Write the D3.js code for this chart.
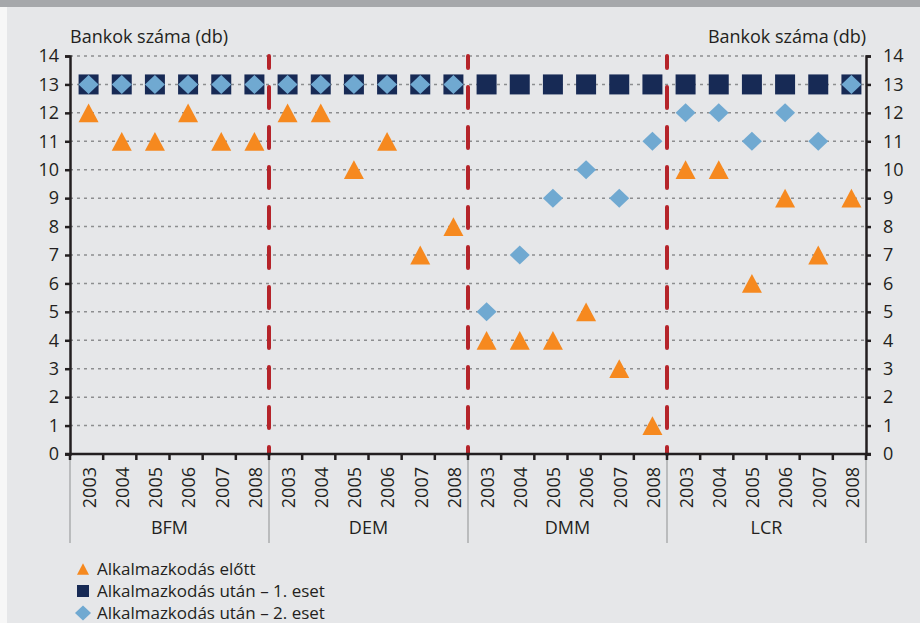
<!DOCTYPE html>
<html>
<head>
<meta charset="utf-8">
<script src="https://cdn.jsdelivr.net/npm/d3@7"></script>
<style>
  body { margin: 0; background: #e6e7e9; }
  svg { display: block; font-family: "Open Sans", sans-serif; }
</style>
</head>
<body>
<svg id="chart"></svg>
<script>
var groups = ["BFM", "DEM", "DMM", "LCR"];
var years = ["2003", "2004", "2005", "2006", "2007", "2008"];

// Alkalmazkodás előtt
var elott = [12, 11, 11, 12, 11, 11,
             12, 12, 10, 11, 7, 8,
             4, 4, 4, 5, 3, 1,
             10, 10, 6, 9, 7, 9];
// Alkalmazkodás után – 1. eset
var utan1 = [13, 13, 13, 13, 13, 13,
             13, 13, 13, 13, 13, 13,
             13, 13, 13, 13, 13, 13,
             13, 13, 13, 13, 13, 13];
// Alkalmazkodás után – 2. eset
var utan2 = [13, 13, 13, 13, 13, 13,
             13, 13, 13, 13, 13, 13,
             5, 7, 9, 10, 9, 11,
             12, 12, 11, 12, 11, 13];

var yTicks = [0, 1, 2, 3, 4, 5, 6, 7, 8, 9, 10, 11, 12, 13, 14];
var axisTitle = "Bankok száma (db)";
var legendLabels = ["Alkalmazkodás előtt", "Alkalmazkodás után – 1. eset", "Alkalmazkodás után – 2. eset"];

var width = 920;
var height = 623;
// plot box (note: "top" is taken by window.top)
var plotL = 70, plotR = 866, plotT = 56, plotB = 454;

var TEXT = "#231f20";
var ORANGE = "#f6891f";
var NAVY = "#172a55";
var LIGHTBLUE = "#70a9d1";
var RED = "#b5242a";

var svg = d3.select("svg#chart")
    .attr("width", width)
    .attr("height", height);

// frame
svg.append("rect").attr("width", width).attr("height", height).attr("fill", "#e6e7e9");
svg.append("rect").attr("x", 0).attr("y", 7).attr("width", 7).attr("height", height).attr("fill", "#f7f7f7");
svg.append("rect").attr("width", width).attr("height", 7).attr("fill", "#a6a8ab");

// categories = group + year
var cats = [];
groups.forEach(function(g) {
    years.forEach(function(yr) { cats.push(g + "|" + yr); });
});

var x = d3.scaleBand().domain(cats).range([plotL, plotR]);
var xg = d3.scaleBand().domain(groups).range([plotL, plotR]);
var y = d3.scaleLinear().domain([0, 14]).range([plotB, plotT]);

var makeRows = function(vals) {
    return vals.map(function(v, i) { return { cat: cats[i], value: v }; });
};

// gridlines
svg.append("g").selectAll("line")
    .data(yTicks.filter(function(t) { return t > 0; }))
    .enter().append("line")
    .attr("x1", plotL).attr("x2", plotR)
    .attr("y1", function(d) { return y(d); })
    .attr("y2", function(d) { return y(d); })
    .attr("stroke", "#8d8e90")
    .attr("stroke-width", 1.5)
    .attr("stroke-dasharray", "3,4");

// group separators below the axis
svg.append("g").selectAll("line")
    .data(groups.concat(["end"]))
    .enter().append("line")
    .attr("x1", function(d) { return d == "end" ? plotR : xg(d); })
    .attr("x2", function(d) { return d == "end" ? plotR : xg(d); })
    .attr("y1", plotB).attr("y2", 543)
    .attr("stroke", "#a3a4a6")
    .attr("stroke-width", 1.3);

// red dashed dividers
svg.append("g").selectAll("line")
    .data(groups.slice(1))
    .enter().append("line")
    .attr("x1", function(d) { return xg(d); })
    .attr("x2", function(d) { return xg(d); })
    .attr("y1", y(14)).attr("y2", y(0))
    .attr("stroke", RED)
    .attr("stroke-width", 4)
    .attr("stroke-linecap", "round")
    .attr("stroke-dasharray", "21,19")
    .attr("stroke-dashoffset", 9);

// axes
var yLeft = d3.axisLeft(y).tickValues(yTicks).tickSize(5).tickPadding(6).tickFormat(d3.format("d"));
var yRight = d3.axisRight(y).tickValues(yTicks).tickSize(5).tickPadding(12).tickFormat(d3.format("d"));

var styleAxis = function(g) {
    g.select(".domain").attr("stroke", TEXT).attr("stroke-width", 2.5);
    g.selectAll(".tick line").attr("stroke", TEXT).attr("stroke-width", 2.5);
    g.selectAll("text").attr("fill", TEXT).attr("font-size", 18)
        .attr("font-family", "'Open Sans', sans-serif");
};

svg.append("g").attr("transform", "translate(" + plotL + ",0)").call(yLeft).call(styleAxis);
svg.append("g").attr("transform", "translate(" + plotR + ",0)").call(yRight).call(styleAxis);

// x axis line + ticks at category boundaries
var xAxis = svg.append("g");
xAxis.append("line")
    .attr("x1", plotL - 5).attr("x2", plotR + 5)
    .attr("y1", plotB).attr("y2", plotB)
    .attr("stroke", TEXT).attr("stroke-width", 2.5);
xAxis.selectAll("line.tk")
    .data(cats.concat(["end"]))
    .enter().append("line").attr("class", "tk")
    .attr("x1", function(d) { return d == "end" ? plotR : x(d); })
    .attr("x2", function(d) { return d == "end" ? plotR : x(d); })
    .attr("y1", plotB).attr("y2", plotB + 6)
    .attr("stroke", TEXT).attr("stroke-width", 2.5);

xAxis.selectAll("text.yr")
    .data(cats)
    .enter().append("text").attr("class", "yr")
    .attr("transform", function(d) {
        return "translate(" + (x(d) + x.bandwidth() / 2 + 3) + "," + (plotB + 13) + ") rotate(-90)";
    })
    .attr("text-anchor", "end")
    .attr("dy", "0.35em")
    .attr("font-size", 18)
    .attr("fill", TEXT)
    .text(function(d) { return d.split("|")[1]; });

xAxis.selectAll("text.grp")
    .data(groups)
    .enter().append("text").attr("class", "grp")
    .attr("x", function(d) { return xg(d) + xg.bandwidth() / 2; })
    .attr("y", 534)
    .attr("text-anchor", "middle")
    .attr("font-size", 18)
    .attr("fill", TEXT)
    .text(function(d) { return d; });

// axis titles
svg.append("text").attr("x", plotL).attr("y", 43)
    .attr("font-size", 18).attr("fill", TEXT).text(axisTitle);
svg.append("text").attr("x", plotR).attr("y", 43).attr("text-anchor", "end")
    .attr("font-size", 18).attr("fill", TEXT).text(axisTitle);

// marker shapes
var triangle = {
    draw: function(ctx, size) {
        var w = Math.sqrt(size);
        ctx.moveTo(0, -w * 0.47);
        ctx.lineTo(w / 2, w * 0.47);
        ctx.lineTo(-w / 2, w * 0.47);
        ctx.closePath();
    }
};
var diamond = {
    draw: function(ctx, size) {
        var r = Math.sqrt(size) / 2;
        ctx.moveTo(0, -r * 0.95);
        ctx.lineTo(r, 0);
        ctx.lineTo(0, r * 0.95);
        ctx.lineTo(-r, 0);
        ctx.closePath();
    }
};

var drawSeries = function(vals, type, size, color) {
    svg.append("g").selectAll("path")
        .data(makeRows(vals))
        .enter().append("path")
        .attr("transform", function(d) {
            return "translate(" + (x(d.cat) + x.bandwidth() / 2 + 2) + "," + y(d.value) + ")";
        })
        .attr("d", d3.symbol().type(type).size(size))
        .attr("fill", color);
};

drawSeries(utan1, d3.symbolSquare, 400, NAVY);
drawSeries(utan2, diamond, 400, LIGHTBLUE);
drawSeries(elott, triangle, 400, ORANGE);

// legend
var legend = svg.append("g").attr("transform", "translate(83,569)");
var legendItems = [
    { label: legendLabels[0], type: triangle, size: 144, color: ORANGE },
    { label: legendLabels[1], type: d3.symbolSquare, size: 144, color: NAVY },
    { label: legendLabels[2], type: diamond, size: 256, color: LIGHTBLUE }
];
var li = legend.selectAll("g").data(legendItems).enter().append("g")
    .attr("transform", function(d, i) { return "translate(0," + (i * 22) + ")"; });
li.append("path")
    .attr("d", function(d) { return d3.symbol().type(d.type).size(d.size)(); })
    .attr("fill", function(d) { return d.color; });
li.append("text")
    .attr("x", 14)
    .attr("dy", "0.35em")
    .attr("font-size", 17)
    .attr("fill", TEXT)
    .text(function(d) { return d.label; });
</script>
</body>
</html>
